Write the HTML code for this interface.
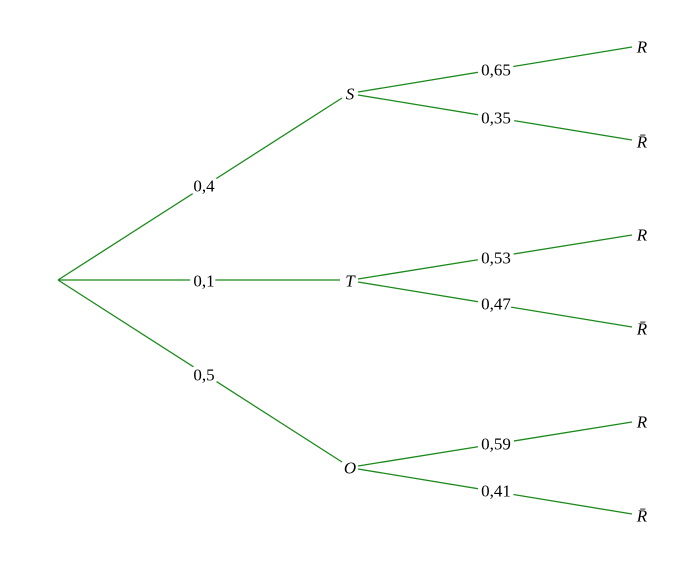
<!DOCTYPE html>
<html><head><meta charset="utf-8"><style>
html,body{margin:0;padding:0;background:#fff;}
svg{display:block;}
text{font-family:"Liberation Serif",serif;font-size:17px;fill:#000;}
.l{paint-order:stroke;stroke:#fff;stroke-width:8px;stroke-linejoin:round;}
.i{font-style:italic;}
</style></head><body>
<svg width="700" height="562" viewBox="0 0 700 562" xmlns="http://www.w3.org/2000/svg">
<g stroke="#1a8a1a" stroke-width="1.3" fill="none">
<line x1="58" y1="280" x2="342" y2="98"/>
<line x1="58" y1="280" x2="340" y2="280"/>
<line x1="58" y1="280" x2="342" y2="462"/>
<line x1="358" y1="92" x2="632" y2="47"/>
<line x1="358" y1="95" x2="632" y2="140"/>
<line x1="358" y1="279" x2="632" y2="235"/>
<line x1="358" y1="282" x2="632" y2="327"/>
<line x1="358" y1="466" x2="632" y2="422"/>
<line x1="358" y1="469" x2="632" y2="514"/>
</g>
<g text-anchor="middle" dominant-baseline="central">
<text class="l" x="204" y="185" dy="1">0,4</text>
<text class="l" x="204" y="280" dy="1">0,1</text>
<text class="l" x="204" y="374" dy="1">0,5</text>
<text class="i" x="350" y="93" dy="1">S</text>
<text class="i" x="350" y="280" dy="1">T</text>
<text class="i" x="350" y="467" dy="1">O</text>
<text class="l" x="496" y="69" dy="1">0,65</text>
<text class="l" x="496" y="117" dy="1">0,35</text>
<text class="l" x="496" y="257" dy="1">0,53</text>
<text class="l" x="496" y="303" dy="1">0,47</text>
<text class="l" x="496" y="443" dy="1">0,59</text>
<text class="l" x="496" y="490" dy="1">0,41</text>
<text class="i" x="642" y="46" dy="1">R</text>
<text class="i" x="642" y="141" dy="1">R̄</text>
<text class="i" x="642" y="234" dy="1">R</text>
<text class="i" x="642" y="328" dy="1">R̄</text>
<text class="i" x="642" y="421" dy="1">R</text>
<text class="i" x="642" y="515" dy="1">R̄</text>
</g>
</svg>
</body></html>
